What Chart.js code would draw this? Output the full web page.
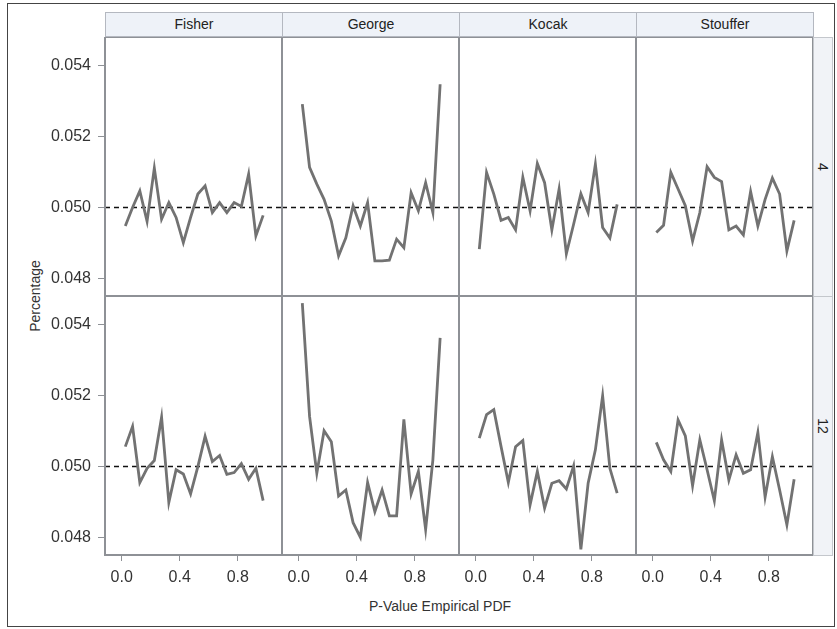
<!DOCTYPE html>
<html>
<head>
<meta charset="utf-8">
<script src="https://cdn.jsdelivr.net/npm/chart.js@4.4.1/dist/chart.umd.min.js"></script>
<style>
  body { margin: 0; background: #fff; font-family: "Liberation Sans", Arial, sans-serif; }
  #wrap { position: relative; width: 837px; height: 629px; overflow: hidden; }
  #wrap canvas { position: absolute; }
  .frame { position: absolute; left: 7px; top: 3px; width: 828px; height: 624px; border: 1px solid #444; box-sizing: border-box; }
  .hdr { position: absolute; top: 12px; height: 25px; background: #eef2f8; border: 1px solid #b4b8c0; box-sizing: border-box;
         text-align: center; font-size: 14px; line-height: 23px; color: #222; }
  .side { position: absolute; left: 813px; width: 20px; background: #f1f3f7; border: 1px solid #c4c7cc; box-sizing: border-box; }
  .side span { position: absolute; left: 50%; top: 50%; transform: translate(-50%, -50%) rotate(90deg); font-size: 14px; color: #222; white-space: nowrap; }
  .ytitle { position: absolute; left: 35px; top: 296px; transform: translate(-50%, -50%) rotate(-90deg); font-size: 14px; color: #333; white-space: nowrap; }
  .xtitle { position: absolute; left: 440px; top: 606px; transform: translate(-50%, -50%); font-size: 14px; color: #333; white-space: nowrap; }
</style>
</head>
<body>
<div id="wrap">
  <div class="frame"></div>
  <div class="ytitle">Percentage</div>
  <div class="xtitle">P-Value Empirical PDF</div>
</div>
<script>
// p-value bins (x positions)
const pValues = [0.025, 0.075, 0.125, 0.175, 0.225, 0.275, 0.325, 0.375, 0.425, 0.475,
                 0.525, 0.575, 0.625, 0.675, 0.725, 0.775, 0.825, 0.875, 0.925, 0.975];

const methods = ['Fisher', 'George', 'Kocak', 'Stouffer'];
const groups = ['4', '12'];

const fisher4   = [0.04948, 0.05000, 0.05047, 0.04961, 0.05111, 0.04967, 0.05014, 0.04972, 0.04901, 0.04972,
                   0.05038, 0.05061, 0.04986, 0.05014, 0.04986, 0.05014, 0.05003, 0.05094, 0.04920, 0.04978];
const george4   = [0.05291, 0.05113, 0.05066, 0.05023, 0.04962, 0.04864, 0.04915, 0.05005, 0.04948, 0.05014,
                   0.04850, 0.04850, 0.04852, 0.04911, 0.04887, 0.05042, 0.04991, 0.05070, 0.04986, 0.05347];
const kocak4    = [0.04883, 0.05099, 0.05038, 0.04964, 0.04972, 0.04937, 0.05085, 0.04991, 0.05124, 0.05070,
                   0.04937, 0.05052, 0.04870, 0.04953, 0.05039, 0.04986, 0.05122, 0.04944, 0.04914, 0.05009];
const stouffer4 = [0.04930, 0.04950, 0.05099, 0.05052, 0.05005, 0.04906, 0.04986, 0.05115, 0.05085, 0.05073,
                   0.04937, 0.04948, 0.04923, 0.05045, 0.04948, 0.05023, 0.05083, 0.05038, 0.04878, 0.04964];

const fisher12   = [0.05056, 0.05113, 0.04955, 0.04995, 0.05017, 0.05139, 0.04899, 0.04991, 0.04979, 0.04923,
                    0.05000, 0.05085, 0.05014, 0.05031, 0.04978, 0.04983, 0.05008, 0.04964, 0.04995, 0.04904];
const george12   = [0.05460, 0.05141, 0.04981, 0.05101, 0.05070, 0.04917, 0.04934, 0.04842, 0.04801, 0.04955,
                    0.04873, 0.04934, 0.04861, 0.04861, 0.05133, 0.04923, 0.04986, 0.04823, 0.05019, 0.05362];
const kocak12    = [0.05080, 0.05146, 0.05160, 0.05056, 0.04955, 0.05056, 0.05073, 0.04892, 0.04986, 0.04883,
                    0.04953, 0.04960, 0.04937, 0.05002, 0.04767, 0.04953, 0.05047, 0.05199, 0.04995, 0.04925];
const stouffer12 = [0.05068, 0.05019, 0.04986, 0.05131, 0.05086, 0.04946, 0.05075, 0.04991, 0.04904, 0.05075,
                    0.04962, 0.05033, 0.04981, 0.04991, 0.05096, 0.04914, 0.05028, 0.04934, 0.04836, 0.04964];

const xTicks = [0.0, 0.4, 0.8];
const yTicks = [0.048, 0.050, 0.052, 0.054];
const refValue = 0.050;

const series = [
  [fisher4, george4, kocak4, stouffer4],
  [fisher12, george12, kocak12, stouffer12]
];

// layout of the lattice
const colX = [105, 282, 459, 636, 813];
const rowY = [37, 296, 555];
const FONT = '"Liberation Sans", Arial, sans-serif';

const wrap = document.getElementById('wrap');

// column headers
methods.forEach(function(m, c) {
  const d = document.createElement('div');
  d.className = 'hdr';
  d.style.left = colX[c] + 'px';
  d.style.width = (colX[c + 1] - colX[c] + 1) + 'px';
  d.textContent = m;
  wrap.appendChild(d);
});
// row headers on the right
groups.forEach(function(g, r) {
  const d = document.createElement('div');
  d.className = 'side';
  d.style.top = rowY[r] + 'px';
  d.style.height = (rowY[r + 1] - rowY[r] + 1) + 'px';
  d.innerHTML = '<span>' + g + '</span>';
  wrap.appendChild(d);
});

const panelPlugin = {
  id: 'panel',
  beforeDatasetsDraw(chart) {
    const a = chart.chartArea, ctx = chart.ctx;
    const y = chart.scales.y.getPixelForValue(refValue);
    ctx.save();
    ctx.strokeStyle = '#111';
    ctx.lineWidth = 1.5;
    ctx.setLineDash([5, 4]);
    ctx.beginPath();
    ctx.moveTo(a.left, y);
    ctx.lineTo(a.right, y);
    ctx.stroke();
    ctx.restore();
  },
  afterDraw(chart) {
    const a = chart.chartArea, ctx = chart.ctx;
    ctx.save();
    ctx.strokeStyle = '#8e9196';
    ctx.lineWidth = 2;
    ctx.strokeRect(a.left, a.top, a.right - a.left, a.bottom - a.top);
    ctx.restore();
  }
};

// force exact axis sizes and drop the label overhang padding
function fixScale(s, size) {
  if (s.isHorizontal()) s.height = s.options.display ? size : 0;
  else s.width = s.options.display ? size : 0;
  s.paddingTop = 0; s.paddingBottom = 0; s.paddingLeft = 0; s.paddingRight = 0;
}

function makePanel(r, c) {
  const left = c === 0 ? 0 : colX[c];
  const top = rowY[r];
  const w = colX[c + 1] - left;
  const h = (r === 1 ? 629 : rowY[r + 1]) - top;
  const cv = document.createElement('canvas');
  cv.width = w; cv.height = h;
  cv.style.left = left + 'px';
  cv.style.top = top + 'px';
  cv.style.width = w + 'px';
  cv.style.height = h + 'px';
  wrap.appendChild(cv);

  const vals = series[r][c];
  new Chart(cv.getContext('2d'), {
    type: 'line',
    data: {
      datasets: [{
        label: methods[c] + ' ' + groups[r],
        data: pValues.map(function(x, i) { return { x: x, y: vals[i] }; }),
        borderColor: '#727272',
        borderWidth: 2.8,
        pointRadius: 0,
        tension: 0,
        fill: false
      }]
    },
    options: {
      responsive: false,
      animation: false,
      layout: { padding: 0 },
      plugins: { legend: { display: false }, tooltip: { enabled: false } },
      scales: {
        x: {
          type: 'linear', min: -0.115, max: 1.105,
          display: r === 1,
          afterBuildTicks: function(s) { s.ticks = xTicks.map(function(v) { return { value: v }; }); },
          afterFit: function(s) { fixScale(s, 74); },
          grid: { drawOnChartArea: false, drawTicks: true, tickLength: 6, color: '#8e9196' },
          border: { display: false },
          ticks: { autoSkip: false, maxRotation: 0, padding: 7, color: '#333',
                   font: { size: 16, family: FONT },
                   callback: function(v) { return Number(v).toFixed(1); } }
        },
        y: {
          type: 'linear', min: 0.04751, max: 0.0548,
          display: c === 0,
          afterBuildTicks: function(s) { s.ticks = yTicks.map(function(v) { return { value: v }; }); },
          afterFit: function(s) { fixScale(s, 105); },
          grid: { drawOnChartArea: false, drawTicks: true, tickLength: 7, color: '#8e9196' },
          border: { display: false },
          ticks: { autoSkip: false, padding: 7, color: '#333',
                   font: { size: 16, family: FONT },
                   callback: function(v) { return Number(v).toFixed(3); } }
        }
      }
    },
    plugins: [panelPlugin]
  });
}

for (let r = 0; r < 2; r++) {
  for (let c = 0; c < 4; c++) makePanel(r, c);
}
</script>
</body>
</html>
